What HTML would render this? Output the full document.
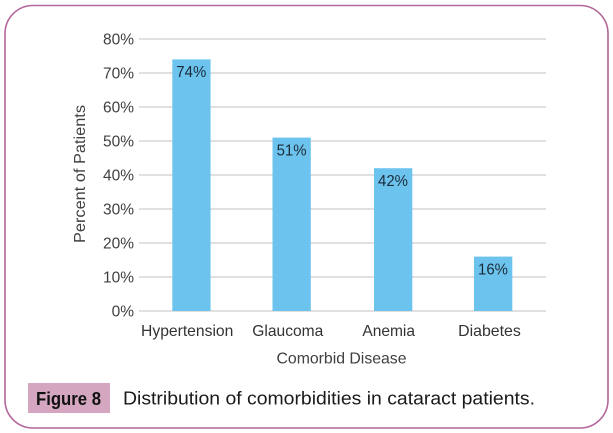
<!DOCTYPE html>
<html>
<head>
<meta charset="utf-8">
<style>
html,body{margin:0;padding:0;background:#fff;}
svg{display:block;}
text{font-family:"Liberation Sans",Arial,sans-serif;}
</style>
</head>
<body>
<svg width="613" height="433" viewBox="0 0 613 433" xmlns="http://www.w3.org/2000/svg">
  <rect x="0" y="0" width="613" height="433" fill="#ffffff"/>
  <rect x="5" y="5.5" width="603" height="422.5" rx="28" ry="28" fill="none" stroke="#b4679a" stroke-width="1.6"/>

  <!-- gridlines -->
  <g stroke="#d6d6d6" stroke-width="1.5">
    <line x1="139" y1="39" x2="546" y2="39"/>
    <line x1="139" y1="73" x2="546" y2="73"/>
    <line x1="139" y1="107" x2="546" y2="107"/>
    <line x1="139" y1="141" x2="546" y2="141"/>
    <line x1="139" y1="175" x2="546" y2="175"/>
    <line x1="139" y1="209" x2="546" y2="209"/>
    <line x1="139" y1="243" x2="546" y2="243"/>
    <line x1="139" y1="277" x2="546" y2="277"/>
    <line x1="139" y1="311" x2="546" y2="311"/>
  </g>

  <!-- y tick labels -->
  <g font-size="15.5" fill="#404040" text-anchor="end">
    <text x="134" y="44.5">80%</text>
    <text x="134" y="78.5">70%</text>
    <text x="134" y="112.5">60%</text>
    <text x="134" y="146.5">50%</text>
    <text x="134" y="180.5">40%</text>
    <text x="134" y="214.5">30%</text>
    <text x="134" y="248.5">20%</text>
    <text x="134" y="282.5">10%</text>
    <text x="134" y="316.5">0%</text>
  </g>

  <!-- bars -->
  <g fill="#6cc4ee">
    <rect x="172.3" y="59.4" width="38.3" height="251.6"/>
    <rect x="272.5" y="137.6" width="38.3" height="173.4"/>
    <rect x="374" y="168.2" width="38.3" height="142.8"/>
    <rect x="474" y="256.6" width="38.3" height="54.4"/>
  </g>

  <!-- value labels -->
  <g font-size="15.5" fill="#1c2b3a" text-anchor="middle">
    <text x="191.3" y="77.2" textLength="30" lengthAdjust="spacingAndGlyphs">74%</text>
    <text x="291.6" y="155.4" textLength="30" lengthAdjust="spacingAndGlyphs">51%</text>
    <text x="393" y="186" textLength="30" lengthAdjust="spacingAndGlyphs">42%</text>
    <text x="493" y="274.4" textLength="30" lengthAdjust="spacingAndGlyphs">16%</text>
  </g>

  <!-- x category labels -->
  <g font-size="15.7" fill="#333333" text-anchor="middle">
    <text x="187.2" y="336" textLength="92.3" lengthAdjust="spacingAndGlyphs">Hypertension</text>
    <text x="287.8" y="336" textLength="71" lengthAdjust="spacingAndGlyphs">Glaucoma</text>
    <text x="388.7" y="336" textLength="52.7" lengthAdjust="spacingAndGlyphs">Anemia</text>
    <text x="489.5" y="336" textLength="62.7" lengthAdjust="spacingAndGlyphs">Diabetes</text>
  </g>

  <!-- axis titles -->
  <text x="341.5" y="363.3" font-size="15.7" fill="#404040" text-anchor="middle" textLength="130" lengthAdjust="spacingAndGlyphs">Comorbid Disease</text>
  <text transform="translate(85,174) rotate(-90)" x="0" y="0" font-size="15.7" fill="#404040" text-anchor="middle" textLength="138" lengthAdjust="spacingAndGlyphs">Percent of Patients</text>

  <!-- caption -->
  <rect x="28" y="383" width="82" height="30" fill="#d4a6bf"/>
  <text x="36" y="405" font-size="18" font-weight="bold" fill="#111111" textLength="65" lengthAdjust="spacingAndGlyphs">Figure 8</text>
  <text x="123" y="404.5" font-size="18.5" fill="#1a1a1a" textLength="412" lengthAdjust="spacingAndGlyphs">Distribution of comorbidities in cataract patients.</text>
</svg>
</body>
</html>
